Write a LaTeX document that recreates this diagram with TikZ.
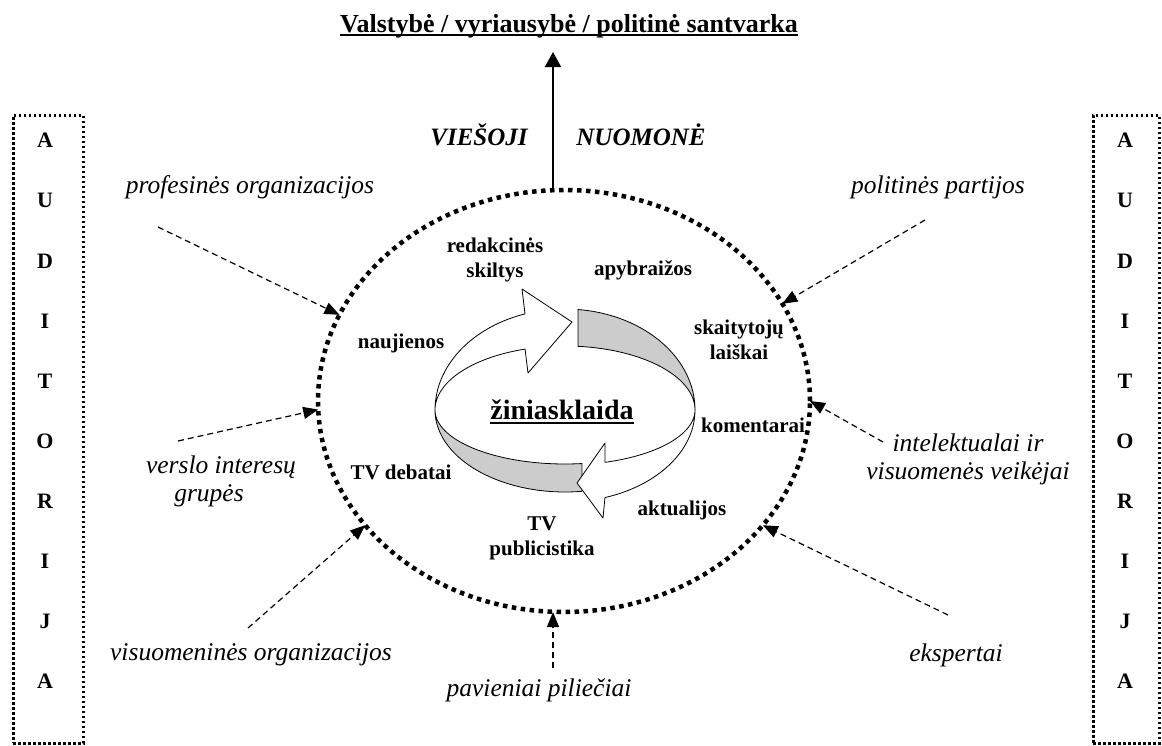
\documentclass[tikz,border=0pt]{standalone}
\usepackage{fontspec}
\setmainfont{Liberation Serif}
\usetikzlibrary{arrows.meta,shapes.geometric,calc}
\tikzset{
  bl/.style={font=\bfseries\fontsize{21}{25}\selectfont, align=center, inner sep=0pt},
  il/.style={font=\itshape\fontsize{25.5}{28}\selectfont, align=center, inner sep=0pt},
  bi/.style={font=\bfseries\itshape\fontsize{25}{28}\selectfont, inner sep=0pt},
  lett/.style={font=\bfseries\fontsize{22}{60.1}\selectfont, align=center, inner sep=0pt},
  audbox/.style={draw, line width=3pt, dash pattern=on 2.5pt off 2.5pt, minimum height=628pt, inner sep=0pt},
  bigring/.style={draw, ellipse, line width=4.5pt, dash pattern=on 4.5pt off 4.5pt, minimum width=492pt, minimum height=422pt, inner sep=0pt, outer sep=0pt},
  infl/.style={line width=1.2pt, dash pattern=on 6pt off 4pt, -{Triangle[length=15pt,width=12pt]}},
  mainarr/.style={line width=1.6pt, -{Triangle[length=15pt,width=16pt]}},
  band/.style={draw=black, line width=0.8pt, line join=round},
}
\definecolor{bandgray}{RGB}{204,204,204}
\begin{document}
\begin{tikzpicture}[x=1pt,y=-1pt]
\useasboundingbox (0,0) rectangle (1162,745);

% title and main arrow
\node[font=\bfseries\fontsize{26}{30}\selectfont, inner sep=0pt, anchor=base] (title) at (569,32) {Valstybė / vyriausybė / politinė santvarka};
\draw[line width=1.3pt] ($(title.base west)+(0,3)$) -- ($(title.base east)+(0,3)$);
\node[bi] (vies) at (479,135) {VIEŠOJI};
\node[bi] (nuom) at (641,135) {NUOMONĖ};

% big dotted ring
\node[bigring] (ring) at (564,401) {};
\coordinate (optop) at (553,52);
\draw[mainarr] (optop |- ring.north) -- (optop);

% audience boxes
\node[audbox, minimum width=70pt] (lbox) at (48,429) {};
\node[audbox, minimum width=66pt] (rbox) at (1126,429) {};
\node[lett] (lletters) at (45,411) {A\\U\\D\\I\\T\\O\\R\\I\\J\\A};
\node[lett] (rletters) at (1125,411) {A\\U\\D\\I\\T\\O\\R\\I\\J\\A};

% outer actors
\node[il] (prof) at (250,187) {profesinės organizacijos};
\node[il] (polit) at (938,187) {politinės partijos};
\node[il] (versl) at (221,481) {verslo interesų\\grupės\hspace*{24pt}};
\node[il] (intel) at (968,459) {intelektualai ir\\visuomenės veikėjai};
\node[il] (visorg) at (251,655) {visuomeninės organizacijos};
\node[il] (eksp) at (956,655) {ekspertai};
\node[il] (pav) at (539,690) {pavieniai piliečiai};

\coordinate (sprof) at (158,227);
\coordinate (spolit) at (925,220);
\coordinate (sversl) at (178,441);
\coordinate (sintel) at (883,442);
\coordinate (svisorg) at (248,628);
\coordinate (seksp) at (948,615);
\coordinate (spav) at (553,668);

\draw[infl] (sprof) -- (ring.159.6);
\draw[infl] (spolit) -- (ring.24);
\draw[infl] (sversl) -- (ring.182.3);
\draw[infl] (sintel) -- (ring.0);
\draw[infl] (svisorg) -- (ring.212);
\draw[infl] (seksp) -- (ring.328);
\draw[infl] (spav) -- (spav |- ring.south);

% inner media cycle: gray tails
\filldraw[band, fill=bandgray]
  plot[domain=275.74:360, samples=40] ({565+130*cos(\x)},{410+101*sin(\x)})
  -- plot[domain=360:275.74, samples=40] ({565+130*cos(\x)},{410+64*sin(\x)}) -- cycle;
\filldraw[band, fill=bandgray]
  plot[domain=82.5:180, samples=40] ({565+130*cos(\x)},{410+82*sin(\x)})
  -- plot[domain=180:82.5, samples=40] ({565+130*cos(\x)},{410+54*sin(\x)}) -- cycle;
% white bodies with heads
\filldraw[band, fill=white]
  plot[domain=180:252.1, samples=40] ({565+130*cos(\x)},{410+101*sin(\x)})
  -- (522,289) -- (572,322) -- (528,373)
  -- plot[domain=252.1:180, samples=40] ({565+130*cos(\x)},{410+64*sin(\x)}) -- cycle;
\filldraw[band, fill=white]
  plot[domain=0:72.1, samples=40] ({565+130*cos(\x)},{410+92*sin(\x)})
  -- (603,518) -- (577,483) -- (605,443)
  -- plot[domain=72.1:0, samples=40] ({565+130*cos(\x)},{410+55*sin(\x)}) -- cycle;

% center label
\node[font=\bfseries\fontsize{28}{30}\selectfont, inner sep=0pt, anchor=base] (zin) at (562,419) {žiniasklaida};
\draw[line width=1.2pt] ($(zin.base west)+(0,4)$) -- ($(zin.base east)+(0,4)$);

% media genres
\node[bl] (redak) at (495,260) {redakcinės\\skiltys};
\node[bl] (apyb) at (643,270) {apybraižos};
\node[bl] (nauj) at (401,343) {naujienos};
\node[bl] (skait) at (739,340) {skaitytojų\\laiškai};
\node[bl] (koment) at (753,425) {komentarai};
\node[bl] (tvdeb) at (401,472) {TV debatai};
\node[bl] (aktual) at (682,510) {aktualijos};
\node[bl] (tvpub) at (542,538) {TV\\publicistika};
\end{tikzpicture}
\end{document}
